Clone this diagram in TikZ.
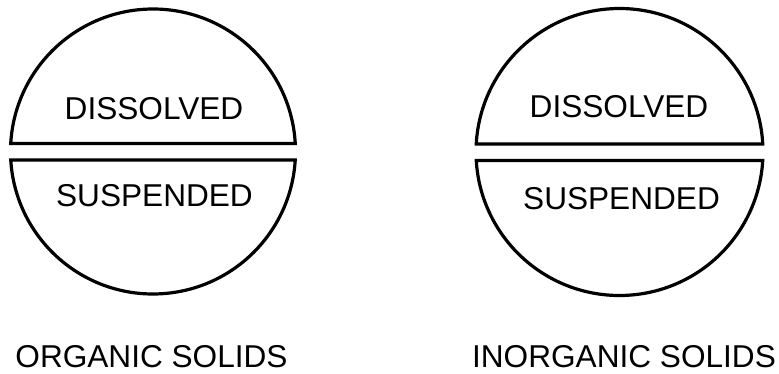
\documentclass[tikz,border=0pt]{standalone}
\usepackage{fontspec}
\setmainfont{Liberation Sans}
\begin{document}
\begin{tikzpicture}[x=1pt,y=1pt,
  seg/.style={draw=black,line width=3.2pt,line join=miter},
  lbl/.style={anchor=base,inner sep=0pt,font=\fontsize{31.6}{31.6}\selectfont}]
\useasboundingbox (0,0) rectangle (779,373);
% left circle: centre (153,221.5), r=142.5
\coordinate (cl) at (153,221.5);
\draw[seg] (cl) ++(3.22:142.5) arc[start angle=3.22,end angle=176.78,radius=142.5] -- cycle;
\draw[seg] (cl) ++(183.42:142.5) arc[start angle=183.42,end angle=356.58,radius=142.5] -- cycle;
% right circle: centre (619.5,221), r=143.5
\coordinate (cr) at (619.5,221);
\draw[seg] (cr) ++(3.2:143.5) arc[start angle=3.2,end angle=176.8,radius=143.5] -- cycle;
\draw[seg] (cr) ++(183.4:143.5) arc[start angle=183.4,end angle=356.6,radius=143.5] -- cycle;
% labels
\node[lbl] (d1) at (154,254) {DISSOLVED};
\node[lbl] (s1) at (154.5,167) {SUSPENDED};
\node[lbl] (d2) at (619,255) {DISSOLVED};
\node[lbl] (s2) at (621.5,164) {SUSPENDED};
\node[lbl] (o1) at (151.5,5.5) {ORGANIC SOLIDS};
\node[lbl] (o2) at (624,6) {INORGANIC SOLIDS};
\end{tikzpicture}
\end{document}
